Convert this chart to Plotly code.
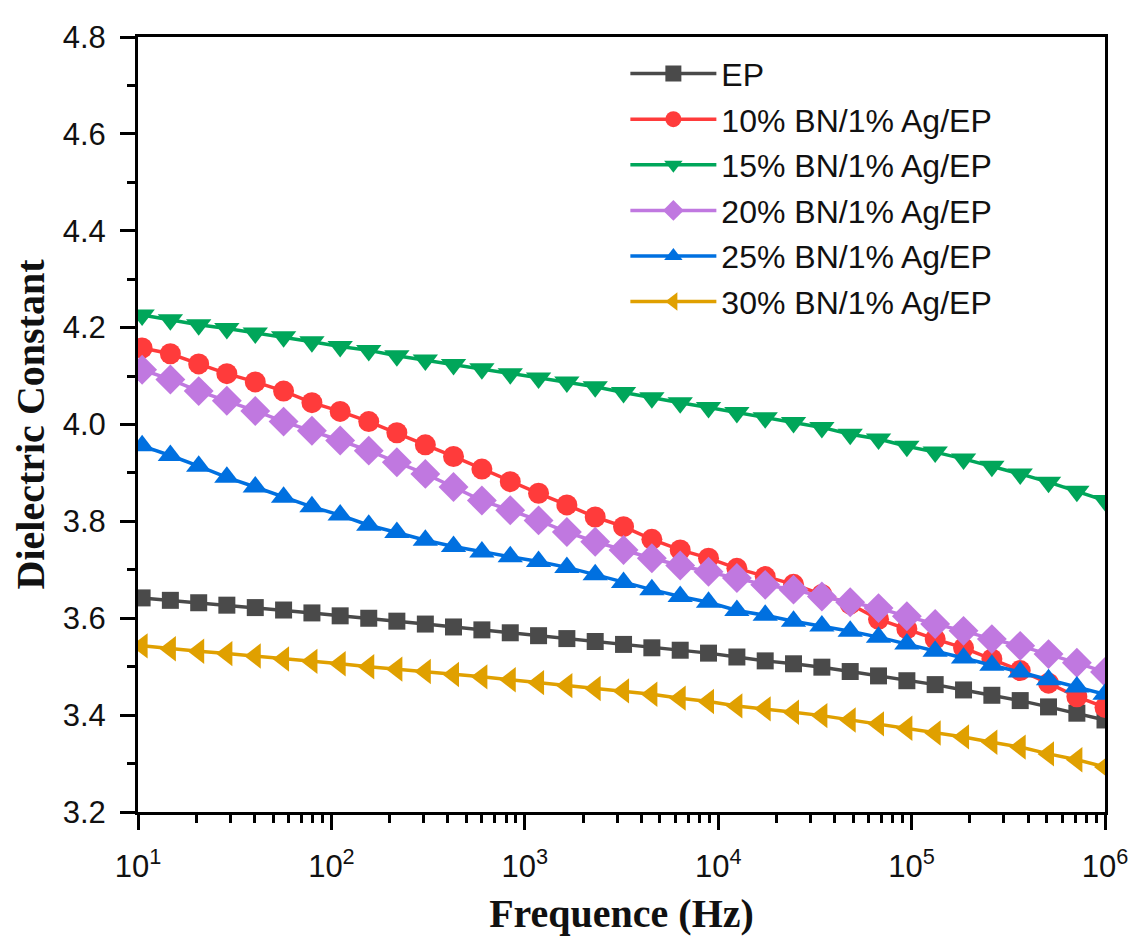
import plotly.graph_objects as go

# frequency grid (Hz), 35 points per sweep
freq = [10.5, 14.7, 20.6, 28.8, 40.4, 56.6, 79.3, 111, 156, 218, 306, 428,
        600, 841, 1178, 1650, 2312, 3240, 4539, 6361, 8913, 12490, 17500,
        24520, 34360, 48140, 67450, 94520, 132400, 185600, 260000, 364400,
        510500, 715400, 1000000]

ep = [3.642, 3.637, 3.632, 3.627, 3.622, 3.617, 3.611, 3.605, 3.600, 3.594,
      3.588, 3.582, 3.576, 3.570, 3.564, 3.558, 3.552, 3.546, 3.539, 3.534,
      3.528, 3.520, 3.512, 3.506, 3.499, 3.490, 3.481, 3.471, 3.463, 3.452,
      3.441, 3.430, 3.417, 3.404, 3.390]

bn10 = [4.158, 4.146, 4.125, 4.105, 4.088, 4.069, 4.045, 4.027, 4.006, 3.983,
        3.958, 3.934, 3.908, 3.882, 3.858, 3.834, 3.809, 3.789, 3.763, 3.741,
        3.724, 3.703, 3.686, 3.670, 3.649, 3.629, 3.598, 3.578, 3.557, 3.539,
        3.516, 3.492, 3.466, 3.438, 3.416]

bn15 = [4.226, 4.216, 4.206, 4.198, 4.189, 4.181, 4.171, 4.161, 4.153, 4.142,
        4.133, 4.124, 4.115, 4.105, 4.096, 4.088, 4.078, 4.066, 4.055, 4.045,
        4.035, 4.025, 4.014, 4.004, 3.994, 3.980, 3.970, 3.955, 3.943, 3.929,
        3.914, 3.898, 3.881, 3.862, 3.843]

bn20 = [4.113, 4.093, 4.069, 4.049, 4.028, 4.006, 3.987, 3.967, 3.946, 3.922,
        3.898, 3.871, 3.843, 3.823, 3.802, 3.778, 3.758, 3.741, 3.724, 3.709,
        3.696, 3.683, 3.669, 3.659, 3.645, 3.633, 3.621, 3.604, 3.588, 3.574,
        3.557, 3.543, 3.526, 3.508, 3.489]

bn25 = [3.956, 3.936, 3.914, 3.891, 3.871, 3.850, 3.830, 3.813, 3.792, 3.777,
        3.761, 3.748, 3.737, 3.727, 3.717, 3.705, 3.690, 3.674, 3.659, 3.645,
        3.633, 3.616, 3.606, 3.594, 3.584, 3.573, 3.561, 3.547, 3.532, 3.518,
        3.503, 3.489, 3.473, 3.458, 3.443]

bn30 = [3.543, 3.537, 3.532, 3.527, 3.522, 3.516, 3.511, 3.506, 3.500, 3.495,
        3.490, 3.484, 3.479, 3.473, 3.467, 3.461, 3.455, 3.450, 3.443, 3.435,
        3.428, 3.419, 3.413, 3.406, 3.399, 3.390, 3.382, 3.373, 3.363, 3.355,
        3.344, 3.334, 3.320, 3.308, 3.293]

names = ["EP", "10% BN/1% Ag/EP", "15% BN/1% Ag/EP", "20% BN/1% Ag/EP",
         "25% BN/1% Ag/EP", "30% BN/1% Ag/EP"]
series = [ep, bn10, bn15, bn20, bn25, bn30]
colors = ["#4a4a4a", "#ff3b3b", "#00a65a", "#c078e0", "#0070e0", "#e0a000"]
symbols = ["square", "circle", "triangle-down", "diamond", "triangle-up", "triangle-left"]
sizes = [17, 21, 22, 23, 22, 22]

x_ticks = [10, 100, 1000, 10000, 100000, 1000000]
x_ticktext = ["10<sup>1</sup>", "10<sup>2</sup>", "10<sup>3</sup>",
              "10<sup>4</sup>", "10<sup>5</sup>", "10<sup>6</sup>"]

fig = go.Figure()
for i, (name, vals) in enumerate(zip(names, series)):
    fig.add_trace(go.Scatter(
        x=freq, y=vals, name=name, mode="lines+markers",
        legendgroup=str(i),
        line=dict(color=colors[i], width=3.5),
        marker=dict(symbol=symbols[i], size=sizes[i], color=colors[i]),
    ))

axis_font = dict(family="Liberation Sans, Arial", size=31, color="#111")
title_font = dict(family="Liberation Serif, Times New Roman", size=40, color="#111")

fig.update_layout(
    width=1148, height=952,
    paper_bgcolor="white", plot_bgcolor="white",
    margin=dict(l=130, r=51, t=24, b=148),
    showlegend=True,
    legend=dict(x=0.504, y=0.988, xanchor="left", yanchor="top",
                font=dict(family="Liberation Sans, Arial", size=32, color="#111"),
                bgcolor="rgba(0,0,0,0)", tracegroupgap=1, itemwidth=86),
)

fig.update_xaxes(
    type="log", range=[1, 6],
    tickvals=x_ticks, ticktext=x_ticktext,
    showline=True, linecolor="black", linewidth=3, mirror=True,
    ticks="outside", ticklen=15, tickwidth=3, tickcolor="black",
    minor=dict(ticks="outside", ticklen=8, tickwidth=2.5, tickcolor="black", dtick="D1"),
    showgrid=False, zeroline=False,
    tickfont=axis_font, ticklabelstandoff=10,
    title=dict(text="<b>Frequence (Hz)</b>", font=title_font, standoff=16),
)
fig.update_yaxes(
    range=[3.2, 4.8], dtick=0.2, tickformat=".1f",
    showline=True, linecolor="black", linewidth=3, mirror=True,
    ticks="outside", ticklen=15, tickwidth=3, tickcolor="black",
    minor=dict(ticks="outside", ticklen=8, tickwidth=2.5, tickcolor="black", dtick=0.1),
    showgrid=False, zeroline=False,
    tickfont=axis_font, ticklabelstandoff=8,
    title=dict(text="<b>Dielectric Constant</b>", font=title_font, standoff=10),
)

fig.write_html("out.html")
